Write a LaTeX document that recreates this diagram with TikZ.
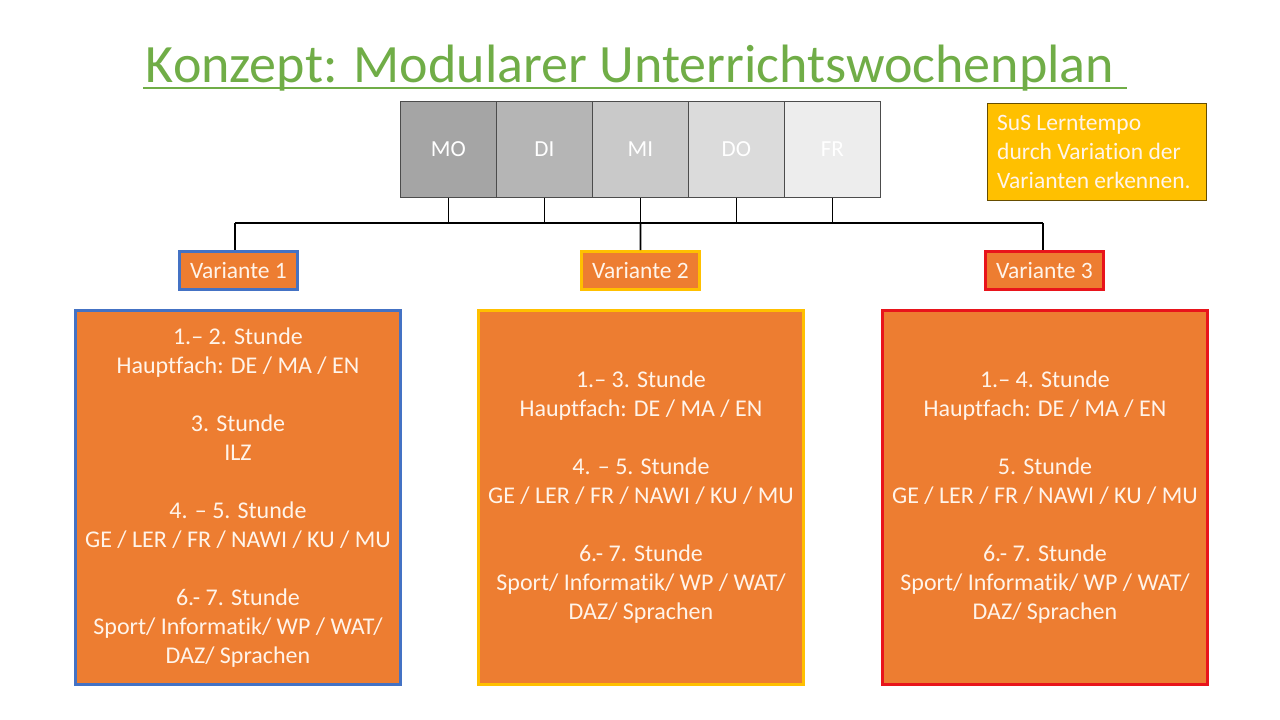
\documentclass[tikz,border=0pt]{standalone}
\usepackage{fontspec}
\setmainfont{Carlito}[Ligatures=CommonOff]
\definecolor{titlegreen}{HTML}{70AD47}
\definecolor{orng}{HTML}{ED7D31}
\definecolor{vblue}{HTML}{4472C4}
\definecolor{vyellow}{HTML}{FFC000}
\definecolor{vred}{HTML}{E8141B}
\definecolor{txt}{HTML}{FFF4EA}
\definecolor{dMO}{HTML}{A5A5A5}
\definecolor{dDI}{HTML}{B5B5B5}
\definecolor{dMI}{HTML}{C9C9C9}
\definecolor{dDO}{HTML}{DBDBDB}
\definecolor{dFR}{HTML}{EDEDED}
\tikzset{
  daybox/.style={draw=black!70, line width=0.8pt, minimum width=96pt, minimum height=96pt, inner sep=0pt, text=white, font=\fontsize{23}{27}\selectfont, anchor=north west},
  varbox/.style={fill=orng, line width=3pt, minimum width=118pt, minimum height=38pt, inner sep=0pt, text=txt, font=\fontsize{23.5}{27}\selectfont, anchor=north west},
  bigbox/.style={fill=orng, line width=3pt, minimum width=325pt, minimum height=374pt, inner sep=0pt, text=txt, align=center, font=\fontsize{24}{29}\selectfont, anchor=north west},
  conn/.style={line width=1.8pt, black}
}
\begin{document}
\begin{tikzpicture}[x=1pt,y=-1pt]
\useasboundingbox (0,0) rectangle (1280,720);
% title
\node[text=titlegreen, font=\fontsize{54}{58}\selectfont, anchor=base] (title) at (630,82) {Konzept: Modularer Unterrichtswochenplan};
\draw[titlegreen, line width=2pt] (143,88) -- (1127,88);
% days
\node[daybox, fill=dMO] (mo) at (400,101) {MO};
\node[daybox, fill=dDI] (di) at (496,101) {DI};
\node[daybox, fill=dMI] (mi) at (592,101) {MI};
\node[daybox, fill=dDO] (do) at (688,101) {DO};
\node[daybox, fill=dFR] (fr) at (784,101) {FR};
% note
\node[fill=vyellow, draw=black!60!vyellow, line width=0.8pt, minimum width=219pt, minimum height=97pt, anchor=north west, inner sep=0pt] (note) at (987,103) {};
\node[anchor=west, text=txt, align=left, font=\fontsize{23.5}{29}\selectfont, inner sep=0pt] (notetext) at ([xshift=10pt]note.west) {SuS Lerntempo\\durch Variation der\\Varianten erkennen.};
% variants
\node[varbox, draw=vblue] (v1) at (178,250) {Variante 1};
\node[varbox, draw=vyellow] (v2) at (580,250) {Variante 2};
\node[varbox, draw=vred] (v3) at (984,250) {Variante 3};
% bus
\coordinate (busL) at (235,223);
\coordinate (busR) at (1043,223);
\draw[conn] (busL) -- (busR);
\foreach \d in {mo,di,mi,do,fr}{\draw[conn] (\d.south) -- (\d.south |- busL);}
\draw[conn] (busL) -- (busL |- v1.north);
\draw[conn] (mi.south |- busL) -- (v2.north);
\draw[conn] (busR) -- (busR |- v3.north);
% big boxes
\node[bigbox, draw=vblue] (b1) at (74,309) {1.– 2. Stunde\\Hauptfach: DE / MA / EN\\[29pt]3. Stunde\\ILZ\\[29pt]4. – 5. Stunde\\GE / LER / FR / NAWI / KU / MU\\[29pt]6.- 7. Stunde\\Sport/ Informatik/ WP / WAT/\\DAZ/ Sprachen};
\node[bigbox, draw=vyellow] (b2) at (477,309) {1.– 3. Stunde\\Hauptfach: DE / MA / EN\\[29pt]4. – 5. Stunde\\GE / LER / FR / NAWI / KU / MU\\[29pt]6.- 7. Stunde\\Sport/ Informatik/ WP / WAT/\\DAZ/ Sprachen};
\node[bigbox, draw=vred] (b3) at (881,309) {1.– 4. Stunde\\Hauptfach: DE / MA / EN\\[29pt]5. Stunde\\GE / LER / FR / NAWI / KU / MU\\[29pt]6.- 7. Stunde\\Sport/ Informatik/ WP / WAT/\\DAZ/ Sprachen};
\end{tikzpicture}
\end{document}
